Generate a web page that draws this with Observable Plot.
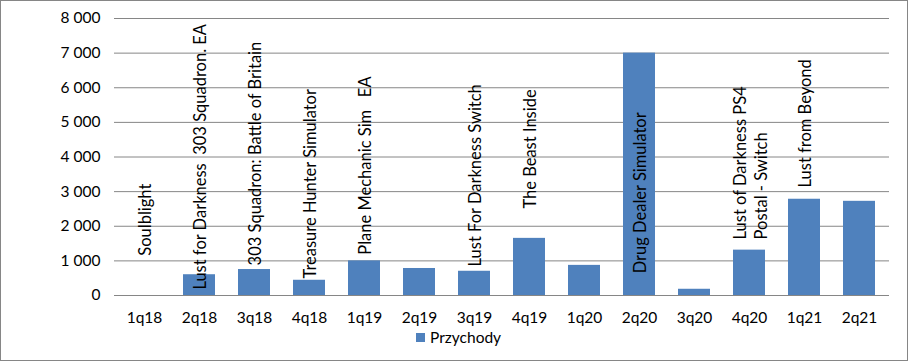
<!DOCTYPE html>
<html>
<head>
<meta charset="utf-8">
<script src="https://cdn.jsdelivr.net/npm/d3@7"></script>
<script src="https://cdn.jsdelivr.net/npm/@observablehq/plot@0.6"></script>
<style>
  html, body { margin: 0; padding: 0; background: #fff; }
  #frame { position: relative; width: 908px; height: 361px; box-sizing: border-box; border: 1px solid #868686; background: #fff; overflow: hidden; }
  #chart svg text { white-space: pre; }
  #legend { position: absolute; left: 415px; top: 327px; font-family: Lato, sans-serif; font-size: 15.5px; color: #000; display: flex; align-items: center; gap: 5px; }
  #legend .sw { width: 9px; height: 9px; background: #4F81BD; }
</style>
</head>
<body>
<div id="frame">
  <div id="chart"></div>
  <div id="legend"><span class="sw"></span><span>Przychody</span></div>
</div>
<script>
const quarters = ["1q18","2q18","3q18","4q18","1q19","2q19","3q19","4q19","1q20","2q20","3q20","4q20","1q21","2q21"];
const revenue = [0, 600, 750, 440, 1000, 780, 700, 1650, 870, 7000, 180, 1310, 2780, 2720];
const gameLabels = [
  "Soulblight",
  "Lust for Darkness  303 Squadron. EA",
  "303 Squadron: Battle of Britain",
  "Treasure Hunter Simulator",
  "Plane Mechanic Sim   EA",
  "",
  "Lust For Darkness Switch",
  "The Beast Inside",
  "",
  "Drug Dealer Simulator",
  "",
  "Lust of Darkness PS4\nPostal - Switch",
  "Lust from Beyond",
  ""
];
const labelBase = [1150, 170, 870, 490, 1180, null, 840, 2510, null, 640, null, 1620, 3120, null];
const yTicks = [0, 1000, 2000, 3000, 4000, 5000, 6000, 7000, 8000];

const rows = quarters.map((q, i) => ({q, v: revenue[i], label: gameLabels[i], base: labelBase[i]}));
const labelRows = rows.filter(d => d.label);
const fmt = d => d3.format(",")(d).replace(/,/g, " ");

const chart = Plot.plot({
  width: 906,
  height: 330,
  marginTop: 17,
  marginBottom: 36,
  marginLeft: 113,
  marginRight: 18,
  style: {fontFamily: "Lato, sans-serif", fontSize: "15.5px", color: "#000", background: "transparent", overflow: "visible"},
  x: {domain: quarters, paddingInner: 0.42, paddingOuter: 0.21, label: null, tickSize: 0, tickPadding: 16},
  y: {domain: [0, 8000], ticks: yTicks, tickFormat: fmt, label: null, tickSize: 0, tickPadding: 14},
  marks: [
    Plot.ruleY(yTicks, {stroke: "#868686", strokeWidth: 1}),
    Plot.barY(rows, {x: "q", y: "v", fill: "#4F81BD"}),
    Plot.text(labelRows, {x: "q", y: "base", text: "label", rotate: -90, textAnchor: "start", lineAnchor: "middle", lineHeight: 1.3, fontSize: 16.5, fill: "#000"})
  ]
});
document.getElementById("chart").appendChild(chart);
</script>
</body>
</html>
